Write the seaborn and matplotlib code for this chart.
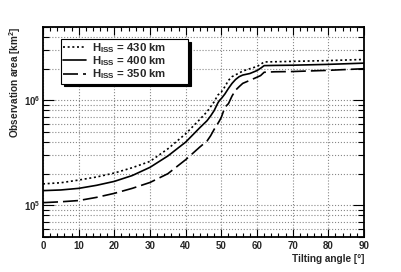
import numpy as np
import pandas as pd
import matplotlib
matplotlib.use('Agg')
import matplotlib.pyplot as plt
import matplotlib.ticker as mticker
import seaborn as sns

# tilting angle [deg]
angles = [0, 5, 10, 15, 20, 25, 30, 35, 40, 44, 46, 47, 48, 49, 49.5, 50, 51, 52, 53, 54,
          55, 56, 58, 60, 61, 62, 65, 70, 80, 90]

# observation area [km^2] for each ISS altitude
area_430 = [1.60e5, 1.64e5, 1.74e5, 1.86e5, 2.03e5, 2.28e5, 2.62e5, 3.45e5, 4.8e5, 6.6e5,
            7.8e5, 8.7e5, 9.7e5, 1.12e6, 1.16e6, 1.2e6, 1.35e6, 1.55e6, 1.68e6, 1.75e6,
            1.82e6, 1.9e6, 2.0e6, 2.1e6, 2.2e6, 2.32e6, 2.33e6, 2.35e6, 2.39e6, 2.45e6]
area_400 = [1.38e5, 1.40e5, 1.45e5, 1.55e5, 1.69e5, 1.92e5, 2.3e5, 2.95e5, 4.0e5, 5.5e5,
            6.4e5, 7.1e5, 8.0e5, 9.4e5, 1.0e6, 1.04e6, 1.15e6, 1.3e6, 1.45e6, 1.58e6,
            1.68e6, 1.74e6, 1.8e6, 1.92e6, 2.02e6, 2.14e6, 2.15e6, 2.16e6, 2.2e6, 2.26e6]
area_350 = [1.06e5, 1.08e5, 1.11e5, 1.19e5, 1.30e5, 1.45e5, 1.65e5, 2.0e5, 2.72e5, 3.6e5,
            4.1e5, 4.6e5, 5.3e5, 6.0e5, 6.4e5, 6.9e5, 8.6e5, 9.3e5, 1.1e6, 1.25e6,
            1.35e6, 1.45e6, 1.55e6, 1.66e6, 1.72e6, 1.85e6, 1.87e6, 1.88e6, 1.93e6, 2.0e6]

labels = ['$H_{ISS}$ = 430 km', '$H_{ISS}$ = 400 km', '$H_{ISS}$ = 350 km']
styles = [(0, (1.2, 1.6)), '-', (0, (9, 3))]

sns.set_style('ticks')
plt.rcParams['font.family'] = ['Liberation Sans', 'DejaVu Sans']
plt.rcParams['font.weight'] = 'bold'
plt.rcParams['mathtext.default'] = 'regular'

fig = plt.figure(figsize=(4.02, 2.72), dpi=100)
ax = fig.add_axes([0.107, 0.129, 0.7985, 0.772])

for area, lab, ls in zip([area_430, area_400, area_350], labels, styles):
    sns.lineplot(x=angles, y=area, ax=ax, color='black', linestyle=ls, linewidth=1.2,
                 label=lab, sort=False)

ax.set_yscale('log')
ax.set_xlim(0, 90)
ax.set_ylim(5e4, 5e6)
ax.xaxis.set_major_locator(mticker.MultipleLocator(10))
ax.xaxis.set_minor_locator(mticker.MultipleLocator(2))
ax.yaxis.set_major_locator(mticker.LogLocator(base=10))
ax.yaxis.set_minor_locator(mticker.LogLocator(base=10, subs=np.arange(2, 10)))
ax.yaxis.set_minor_formatter(mticker.NullFormatter())

ax.grid(which='major', axis='x', linestyle=':', color='#888888', linewidth=0.8)
ax.grid(which='both', axis='y', linestyle=':', color='#888888', linewidth=0.8)

ax.tick_params(which='both', direction='in', top=True, right=True, labelsize=7,
               width=0.8, color='black')
ax.tick_params(axis='x', which='major', length=6, pad=3)
ax.tick_params(axis='x', which='minor', length=3)
ax.tick_params(axis='y', which='major', length=8, pad=2)
ax.tick_params(axis='y', which='minor', length=4)
for lab in ax.get_xticklabels() + ax.get_yticklabels():
    lab.set_fontweight('bold')

for sp in ax.spines.values():
    sp.set_linewidth(1.3)
    sp.set_color('black')

ax.set_xlabel('Tilting angle [°]', loc='right', fontsize=7.2, fontweight='bold', labelpad=2)
ax.set_ylabel('Observation area [km$^2$]', loc='top', fontsize=7.2, fontweight='bold',
              labelpad=0.5)

# ROOT-like legend box, wider than its text
leg = ax.legend(loc='upper left', bbox_to_anchor=(0.056, 0.5, 0.396, 0.443), mode='expand',
                borderaxespad=0, frameon=True, fancybox=False,
                shadow={'color': 'black', 'alpha': 1},
                handlelength=2.0, handletextpad=0.55, labelspacing=-0.05,
                borderpad=0.2, prop={'weight': 'bold', 'size': 8.2})
leg.get_frame().set_edgecolor('black')
leg.get_frame().set_linewidth(0.8)
leg.get_frame().set_alpha(1)

fig.savefig('out.png', dpi=100)
